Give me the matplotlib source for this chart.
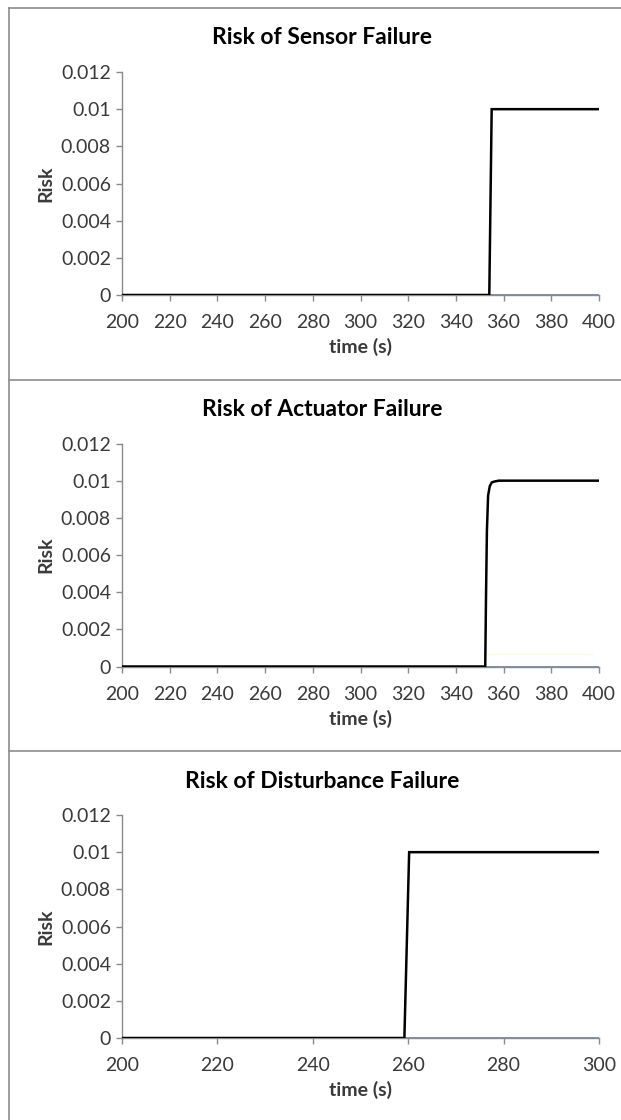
import matplotlib.pyplot as plt
from matplotlib.lines import Line2D

# Risk curves for the three failure modes (time in s, risk)
sensor_t = [200, 354, 355, 400]
sensor_risk = [0, 0, 0.01, 0.01]
sensor_after_t = [354, 400]
sensor_after_risk = [0, 0]

actuator_t = [200, 352.3, 352.6, 353.0, 353.5, 354.2, 355, 356, 358, 360, 400]
actuator_risk = [0, 0, 0.0035, 0.0073, 0.0092, 0.0097, 0.0099, 0.00995, 0.01, 0.01, 0.01]
actuator_after_t = [352.3, 400]
actuator_after_risk = [0, 0]
actuator_faint_t = [353, 397]
actuator_faint_risk = [0.00065, 0.00065]

disturb_t = [200, 259.2, 260.2, 300]
disturb_risk = [0, 0, 0.01, 0.01]
disturb_after_t = [259.2, 300]
disturb_after_risk = [0, 0]

titles = ["Risk of Sensor Failure", "Risk of Actuator Failure", "Risk of Disturbance Failure"]
x_ranges = [(200, 400, 20), (200, 400, 20), (200, 300, 20)]
y_ticks = [0, 0.002, 0.004, 0.006, 0.008, 0.01, 0.012]
y_tick_labels = ["0", "0.002", "0.004", "0.006", "0.008", "0.01", "0.012"]

plt.rcParams['font.family'] = ['Lato', 'DejaVu Sans']

W, H = 621, 1120
fig = plt.figure(figsize=(W / 100, H / 100), dpi=100)
fig.patch.set_facecolor('white')

panel_tops = [8, 379.5, 751]
border_col = '#8c8c8c'
axis_col = '#8a8a8a'
text_col = '#3a3a3a'
blue = '#7095c2'

series = [
    [(sensor_t, sensor_risk, 'black', 1.8), (sensor_after_t, sensor_after_risk, blue, 1.4)],
    [(actuator_t, actuator_risk, 'black', 1.8), (actuator_faint_t, actuator_faint_risk, '#fcf9e2', 1.0),
     (actuator_after_t, actuator_after_risk, blue, 1.4)],
    [(disturb_t, disturb_risk, 'black', 1.8), (disturb_after_t, disturb_after_risk, blue, 1.4)],
]

# panel frames
fig.add_artist(Line2D([9 / W, 9 / W], [0, 1 - 8 / H], color=border_col, lw=1.2, transform=fig.transFigure))
for T in panel_tops:
    fig.add_artist(Line2D([9 / W, 1], [1 - T / H, 1 - T / H], color=border_col, lw=1.2, transform=fig.transFigure))

left, right = 122, 599
for i, T in enumerate(panel_tops):
    top, bottom = T + 64, T + 287
    ax = fig.add_axes([left / W, 1 - bottom / H, (right - left) / W, (bottom - top) / H])
    for t, r, c, lw in series[i]:
        ax.plot(t, r, color=c, lw=lw, solid_joinstyle='miter', zorder=3 if c == 'black' else 2)
    x0, x1, step = x_ranges[i]
    ax.set_xlim(x0, x1)
    ax.set_ylim(0, 0.012)
    ax.set_xticks(range(x0, x1 + 1, step))
    ax.set_yticks(y_ticks)
    ax.set_yticklabels(y_tick_labels)
    for s in ['top', 'right']:
        ax.spines[s].set_visible(False)
    for s in ['left', 'bottom']:
        ax.spines[s].set_color(axis_col)
        ax.spines[s].set_linewidth(1.0)
    ax.tick_params(axis='both', direction='out', length=4, width=1.0, color=axis_col,
                   labelsize=14, labelcolor=text_col)
    ax.tick_params(axis='x', pad=10)
    ax.tick_params(axis='y', pad=4)
    ax.set_xlabel("time (s)", fontsize=14, fontweight='bold', color=text_col, labelpad=5)
    ax.set_ylabel("Risk", fontsize=14, fontweight='bold', color=text_col)
    ax.yaxis.set_label_coords(-(122 - 54) / (right - left), 0.5)
    fig.text(322 / W, 1 - (T + 30) / H, titles[i], ha='center', va='center',
             fontsize=16.5, fontweight='bold', color='black')

fig.savefig('out.png', dpi=100)
